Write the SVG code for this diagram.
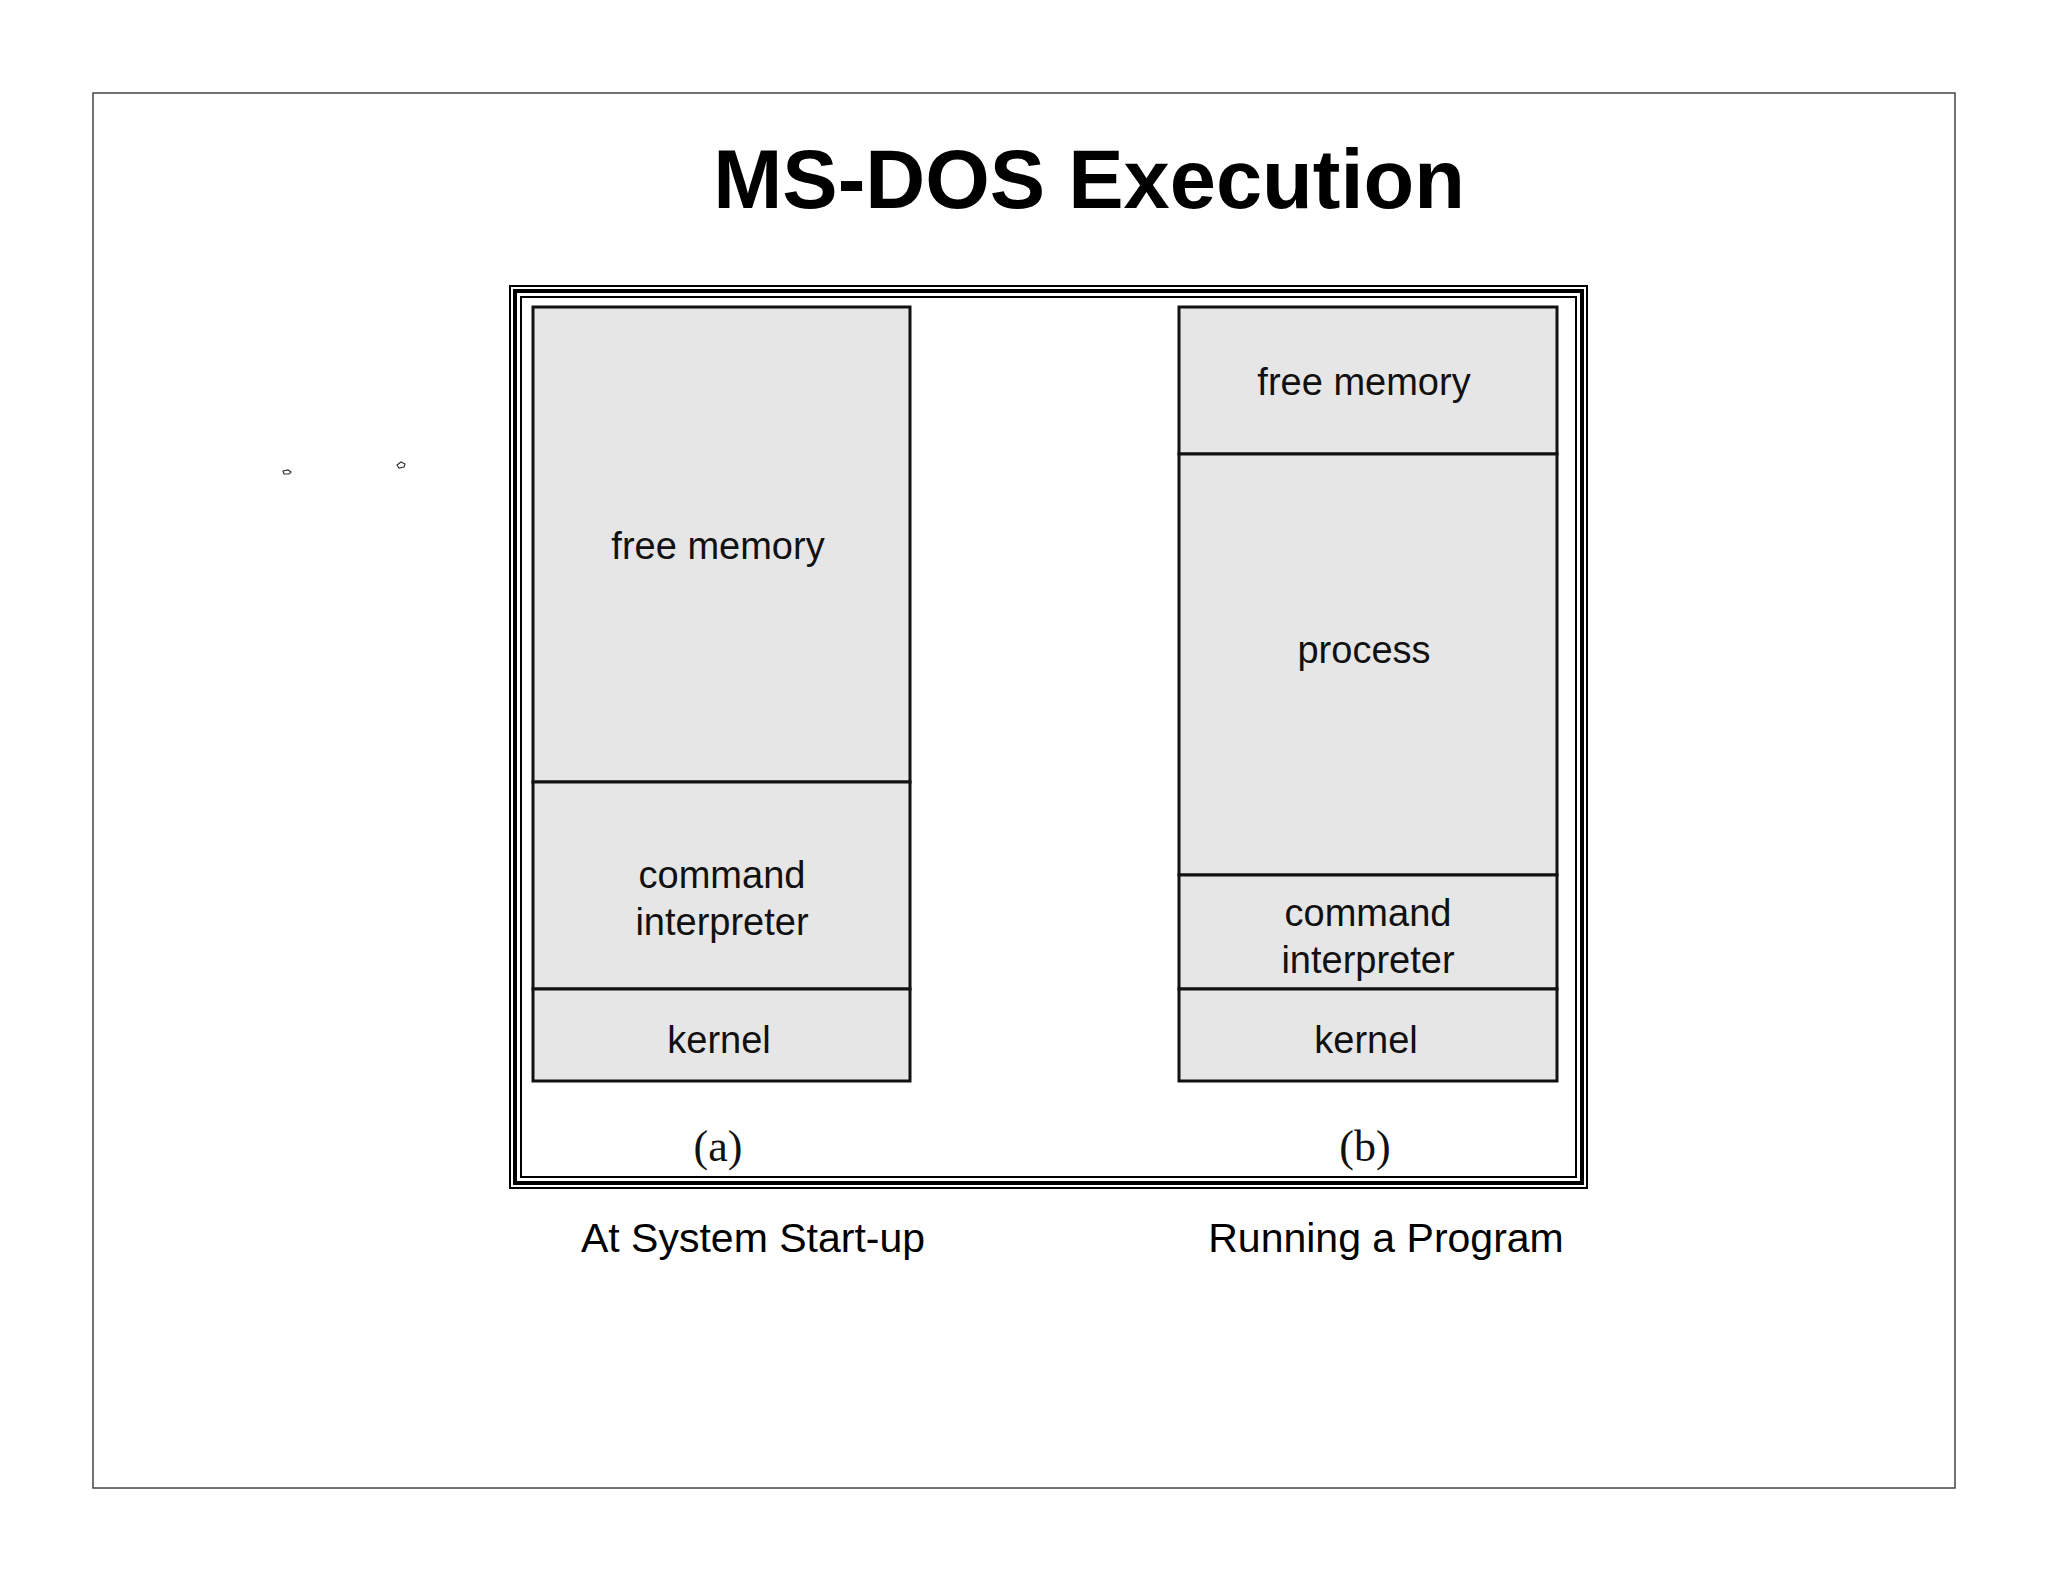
<svg xmlns="http://www.w3.org/2000/svg" width="2048" height="1582" viewBox="0 0 2048 1582">
<style>
.seg{fill:#e6e6e6;stroke:#111;stroke-width:3}
.t{font-family:"Liberation Sans",Arial,sans-serif;font-size:38px;fill:#111;text-anchor:middle}
.c{font-family:"Liberation Sans",Arial,sans-serif;font-size:41px;fill:#000;text-anchor:middle}
.s{font-family:"Liberation Serif","Times New Roman",serif;font-size:44px;fill:#111;text-anchor:middle}
</style>
<rect width="2048" height="1582" fill="#fff"/>
<rect x="93" y="93" width="1862" height="1395" fill="none" stroke="#444" stroke-width="1.5"/>
<text x="1089" y="208" font-family="Liberation Sans,Arial,sans-serif" font-size="83" font-weight="bold" text-anchor="middle">MS-DOS Execution</text>
<g id="frame" fill="none" stroke="#000">
<rect x="510" y="286" width="1077" height="902" stroke-width="2"/>
<rect x="515" y="291" width="1067" height="892" stroke-width="4"/>
<rect x="521" y="297" width="1055" height="880" stroke-width="2"/>
</g>
<g id="marks" fill="none" stroke="#333" stroke-width="1.2">
<path d="M283 471 l5 -1 l3 2 l-2 2 l-5 0 z"/>
<path d="M397 465 l4 -3 l4 2 l-1 3 l-5 1 z"/>
</g>
<g id="a">
<rect class="seg" x="533" y="307" width="377" height="475"/>
<rect class="seg" x="533" y="782" width="377" height="207"/>
<rect class="seg" x="533" y="989" width="377" height="92"/>
<text class="t" x="718" y="559">free memory</text>
<text class="t" x="722" y="888">command</text>
<text class="t" x="722" y="935">interpreter</text>
<text class="t" x="719" y="1053">kernel</text>
<text class="s" x="718" y="1161">(a)</text>
</g>
<g id="b">
<rect class="seg" x="1179" y="307" width="378" height="147"/>
<rect class="seg" x="1179" y="454" width="378" height="421"/>
<rect class="seg" x="1179" y="875" width="378" height="114"/>
<rect class="seg" x="1179" y="989" width="378" height="92"/>
<text class="t" x="1364" y="395">free memory</text>
<text class="t" x="1364" y="663">process</text>
<text class="t" x="1368" y="926">command</text>
<text class="t" x="1368" y="973">interpreter</text>
<text class="t" x="1366" y="1053">kernel</text>
<text class="s" x="1365" y="1161">(b)</text>
</g>
<g id="captions">
<text class="c" x="753" y="1252">At System Start-up</text>
<text class="c" x="1386" y="1252">Running a Program</text>
</g>
</svg>
